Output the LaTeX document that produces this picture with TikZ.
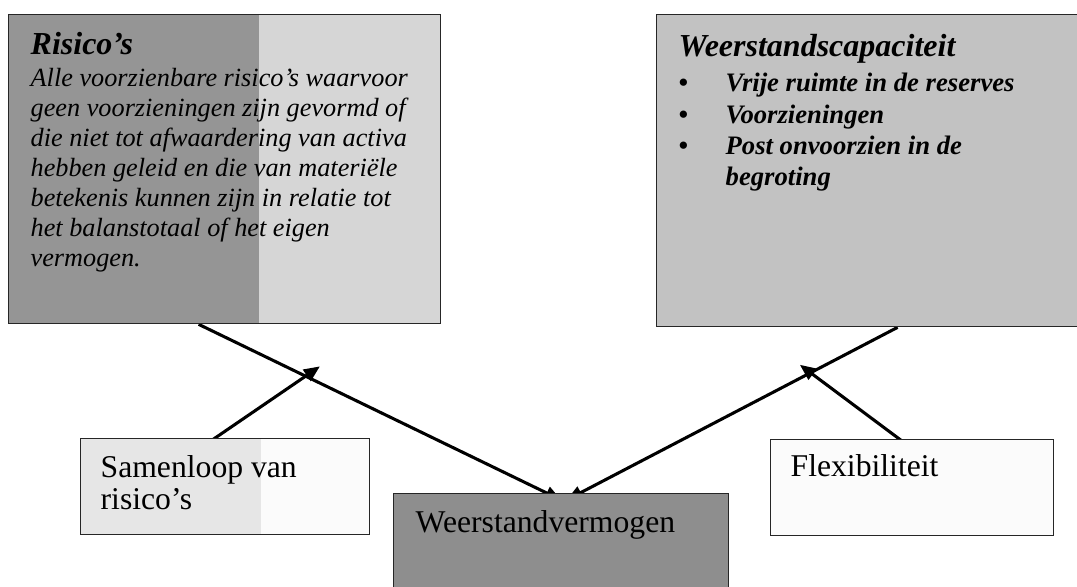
\documentclass[tikz,border=0pt]{standalone}
\usepackage{fontspec}
\setmainfont{Liberation Serif}
\usetikzlibrary{positioning,arrows.meta,calc,backgrounds}
\usepackage{xcolor}
\definecolor{riskDark}{HTML}{959595}
\definecolor{riskLight}{HTML}{D6D6D6}
\definecolor{capGray}{HTML}{C2C2C2}
\definecolor{vermDark}{HTML}{8E8E8E}
\definecolor{paleGray}{HTML}{E6E6E6}
\definecolor{paper}{HTML}{FBFBFB}
\newcommand{\boxtext}[3]{\parbox[c][#2][t]{#1}{\raggedright #3}}
\newcommand{\itm}[1]{\makebox[35.25pt][l]{\textbullet}#1}

\begin{document}
\begin{tikzpicture}[
  x=0.75pt, y=-0.75pt,
  >={Triangle[length=12pt, width=10pt]},
  panel/.style={draw=black!85, line width=1pt, anchor=north west, inner xsep=16.5pt},
  flow/.style={->, line width=2.3pt, color=black},
  side/.style={flow, shorten >=-10pt}
]
\useasboundingbox (0,0) rectangle (1077,586);
\clip (0,0) rectangle (1077,586);

\node[panel, fill=riskLight, inner ysep=13.5pt,
  path picture={\fill[riskDark] (path picture bounding box.north west)
    rectangle ([xshift=187.5pt]path picture bounding box.south west);}]
  (risico) at (8,14) {\boxtext{291pt}{204.75pt}{%
  {\fontsize{24pt}{24pt}\selectfont\bfseries\itshape Risico’s\par}
  \vspace{1.5pt}
  {\fontsize{19.7pt}{22.5pt}\selectfont\itshape
  Alle voorzienbare risico’s waarvoor\\
  geen voorzieningen zijn gevormd of\\
  die niet tot afwaardering van activa\\
  hebben geleid en die van materiële\\
  betekenis kunnen zijn in relatie tot\\
  het balanstotaal of het eigen\\
  vermogen.\par}}};

\node[panel, fill=capGray, inner ysep=15pt] (capaciteit) at (656,14) {\boxtext{292.5pt}{204pt}{%
  {\fontsize{24pt}{24pt}\selectfont\bfseries\itshape Weerstandscapaciteit\par}
  \vspace{2.4pt}
  {\fontsize{20pt}{23.6pt}\selectfont\bfseries\itshape
  \itm{Vrije ruimte in de reserves}\\
  \itm{Voorzieningen}\\
  \itm{Post onvoorzien in de}\\
  \hspace*{35.25pt}begroting\par}}};

\node[panel, fill=paper, inner xsep=15pt, inner ysep=13pt,
  path picture={\fill[paleGray] (path picture bounding box.north west)
    rectangle ([xshift=135pt]path picture bounding box.south west);}]
  (samenloop) at (80,438) {\boxtext{186.75pt}{46pt}{%
  \fontsize{23.75pt}{23.5pt}\selectfont Samenloop van\\ risico’s}};

\node[panel, fill=paper, inner xsep=15pt, inner ysep=11.25pt] (flexibiliteit) at (770,439)
  {\boxtext{182.25pt}{49.5pt}{\fontsize{23.75pt}{23.25pt}\selectfont Flexibiliteit}};

\node[panel, fill=vermDark, inner ysep=12.75pt] (vermogen) at (393,493)
  {\boxtext{218.25pt}{64.5pt}{\fontsize{23.75pt}{24pt}\selectfont Weerstandvermogen}};

% lijnen achter de vakken
\begin{scope}[on background layer]
\coordinate (rvoet) at ($(risico.south west)!0.44!(risico.south east)$);
\coordinate (cvoet) at ($(capaciteit.south west)!0.555!(capaciteit.south east)$);
\coordinate (vlinks) at ($(vermogen.north west)!0.50!(vermogen.north east)+(0,7)$);
\coordinate (vrechts) at ($(vermogen.north west)!0.516!(vermogen.north east)+(0,7)$);
\draw[flow] (rvoet) -- (vlinks);
\draw[flow] (cvoet) -- (vrechts);
\draw[side, shorten >=-13pt] ($(samenloop.north west)!0.415!(samenloop.north east)+(0,10)$) -- ($(rvoet)!0.295!(vlinks)$);
\draw[side] ($(flexibiliteit.north west)!0.502!(flexibiliteit.north east)+(0,10)$) -- ($(cvoet)!0.263!(vrechts)$);
\end{scope}

\end{tikzpicture}
\end{document}
